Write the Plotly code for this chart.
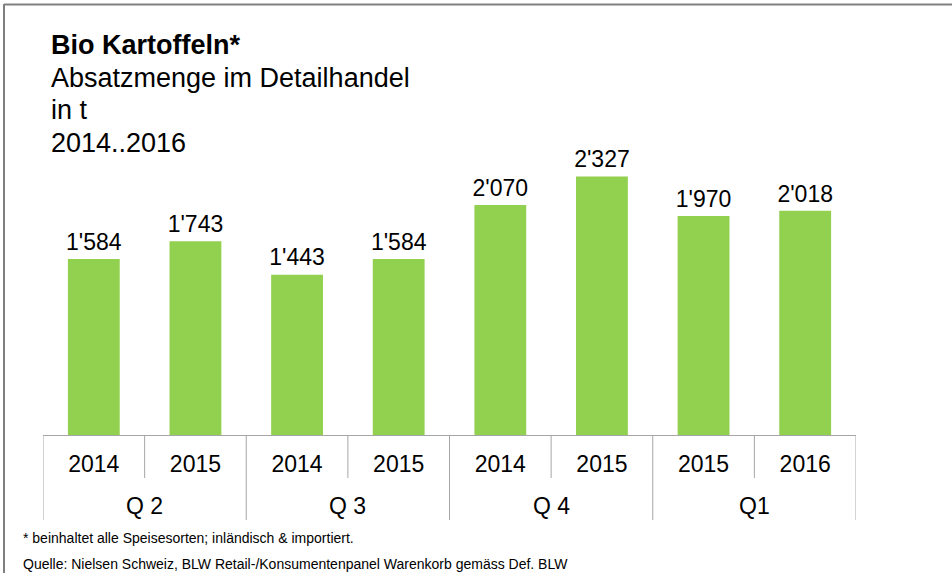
import plotly.graph_objects as go

# Sales volumes of organic potatoes in retail, tonnes per quarter
quarters = ["Q 2", "Q 2", "Q 3", "Q 3", "Q 4", "Q 4", "Q1", "Q1"]
years = ["2014", "2015", "2014", "2015", "2014", "2015", "2015", "2016"]
volumes = [1584, 1743, 1443, 1584, 2070, 2327, 1970, 2018]

title_lines = ["<b>Bio Kartoffeln*</b>", "Absatzmenge im Detailhandel", "in t", "2014..2016"]
footnote = "* beinhaltet alle Speisesorten; inländisch & importiert."
source = "Quelle: Nielsen Schweiz, BLW Retail-/Konsumentenpanel Warenkorb gemäss Def. BLW"

# Swiss-style thousands separator (apostrophe)
labels = [f"{v:,}".replace(",", "'") for v in volumes]
cats = [f"{q} {y}" for q, y in zip(quarters, years)]

W, H = 952, 573
L, R, T, B = 43, 96, 135, 138
PW, PH = W - L - R, H - T - B


def px_x(p):
    return (p - L) / PW


def px_y(p):
    return (H - B - p) / PH


FONT = "Liberation Sans, Arial, sans-serif"
GREEN = "#92D050"
GRID = "#A6A6A6"

fig = go.Figure()
fig.add_trace(go.Bar(
    x=cats, y=volumes,
    marker=dict(color=GREEN, line=dict(width=0)),
    width=0.51, hoverinfo="skip",
))
fig.add_trace(go.Scatter(
    x=cats, y=volumes,
    mode="markers+text", text=labels, textposition="top center",
    marker=dict(size=4, opacity=0),
    textfont=dict(family=FONT, size=23, color="#000000"),
    cliponaxis=False, hoverinfo="skip",
))

# quarter groups: index spans of consecutive equal quarter names
groups = []
for i, q in enumerate(quarters):
    if groups and groups[-1][0] == q:
        groups[-1][2] = i
    else:
        groups.append([q, i, i])

shapes = []
annotations = []
y_short = px_y(478)
y_long = px_y(520)
for q, i0, i1 in groups:
    annotations.append(dict(
        text=q, xref="x", yref="paper", x=(i0 + i1) / 2, y=px_y(506),
        xanchor="center", yanchor="middle", showarrow=False,
        font=dict(family=FONT, size=23, color="#000000"),
    ))
    shapes.append(dict(type="line", xref="x", yref="paper",
                       x0=i0 - 0.5, x1=i0 - 0.5, y0=0, y1=y_long,
                       line=dict(color=GRID, width=1)))
    for k in range(i0, i1):
        shapes.append(dict(type="line", xref="x", yref="paper",
                           x0=k + 0.5, x1=k + 0.5, y0=0, y1=y_short,
                           line=dict(color=GRID, width=1)))
last = groups[-1][2] + 0.5
shapes.append(dict(type="line", xref="x", yref="paper",
                   x0=last, x1=last, y0=0, y1=y_long,
                   line=dict(color=GRID, width=1)))

# title block, one line per annotation
for line, py in zip(title_lines, [45, 78, 110, 143]):
    annotations.append(dict(
        text=line, xref="paper", yref="paper", x=px_x(49), y=px_y(py),
        xanchor="left", yanchor="middle", showarrow=False,
        font=dict(family=FONT, size=27, color="#000000"),
    ))

annotations.append(dict(
    text=footnote, xref="paper", yref="paper", x=px_x(21), y=px_y(538),
    xanchor="left", yanchor="middle", showarrow=False,
    font=dict(family=FONT, size=14, color="#000000"),
))
annotations.append(dict(
    text=source, xref="paper", yref="paper", x=px_x(21), y=px_y(564),
    xanchor="left", yanchor="middle", showarrow=False,
    font=dict(family=FONT, size=14, color="#000000"),
))

# outer frame (top and left edges)
shapes.append(dict(type="line", xref="paper", yref="paper",
                   x0=px_x(4), x1=px_x(960), y0=px_y(4.5), y1=px_y(4.5),
                   line=dict(color="#808080", width=2)))
shapes.append(dict(type="line", xref="paper", yref="paper",
                   x0=px_x(4), x1=px_x(4), y0=px_y(4), y1=px_y(580),
                   line=dict(color="#808080", width=2)))

fig.update_layout(
    width=W, height=H,
    margin=dict(l=L, r=R, t=T, b=B),
    paper_bgcolor="white", plot_bgcolor="white",
    showlegend=False,
    font=dict(family=FONT, color="#000000"),
    xaxis=dict(
        type="category", range=[-0.5, len(cats) - 0.5],
        tickvals=cats, ticktext=years, ticks="",
        ticklabelstandoff=8,
        showline=True, linecolor=GRID, linewidth=1,
        tickfont=dict(family=FONT, size=23, color="#000000"),
        showgrid=False, zeroline=False,
    ),
    yaxis=dict(visible=False, range=[0, 2700]),
    annotations=annotations,
    shapes=shapes,
)

fig.write_html("out.html")
